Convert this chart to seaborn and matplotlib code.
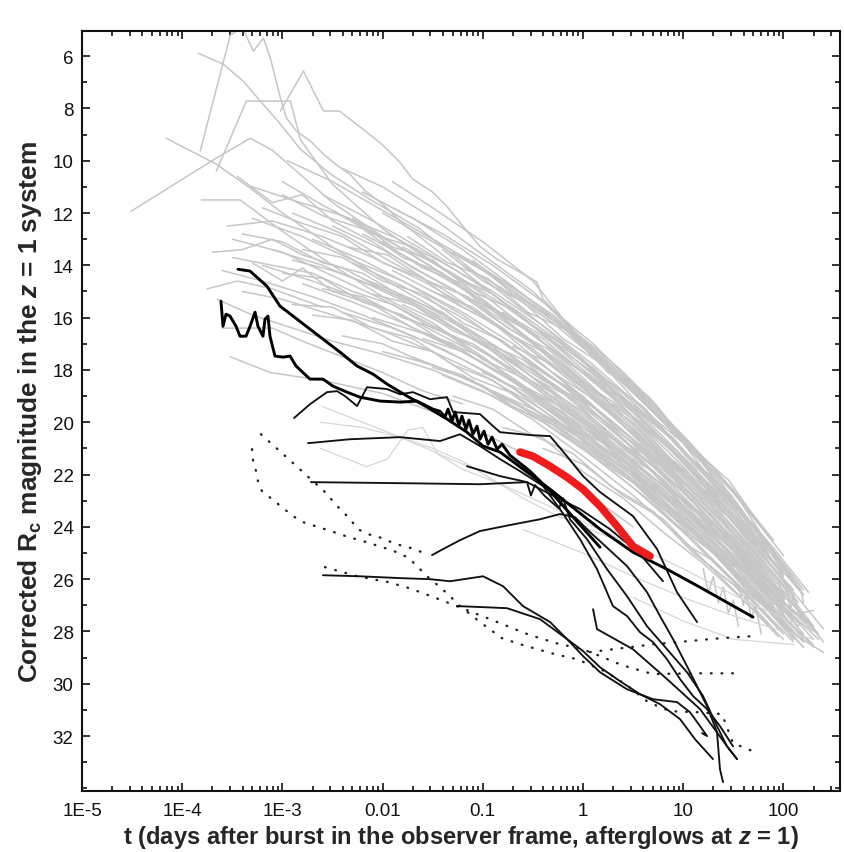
import numpy as np
import pandas as pd
import matplotlib
matplotlib.use("Agg")
import matplotlib.pyplot as plt
import seaborn as sns
from matplotlib import font_manager
from matplotlib.ticker import FixedLocator, LogLocator, MultipleLocator, NullFormatter

# ---------------- data (log10 t [days], corrected Rc magnitude) ----------------
x_tick_values = [1e-5, 1e-4, 1e-3, 1e-2, 1e-1, 1, 10, 100]
x_tick_labels = ["1E-5", "1E-4", "1E-3", "0.01", "0.1", "1", "10", "100"]
y_tick_values = list(range(6, 33, 2))

# grey: the comparison sample of afterglows
gray_curves = [
    [(-3.02, 8.1), (-2.79, 6.57), (-2.59, 8.1), (-2.43, 8.1), (-2.33, 8.4), (-2.17, 8.87), (-2.0, 9.4), (-1.83, 10.05), (-1.70, 10.7), (-1.50, 11.2), (-1.36, 11.74), (-1.20, 12.5), (-1.03, 13.27), (-0.86, 13.76), (-0.63, 14.26), (-0.46, 14.64), (-0.40, 15.29), (-0.23, 15.94), (-0.03, 16.71), (0.17, 17.32), (0.37, 17.97), (0.57, 18.73), (0.74, 19.38), (0.90, 20.15), (1.17, 21.41), (1.50, 23.21), (1.84, 24.59), (2.0, 25.5), (2.17, 26.38), (2.2, 26.9)],
    [(-3.82, 9.63), (-3.52, 5.2), (-3.40, 4.9), (-3.29, 5.81), (-3.19, 5.31), (-3.12, 6.08), (-3.02, 7.6), (-2.96, 8.37), (-2.86, 8.87), (-2.72, 9.25), (-2.59, 9.75), (-2.47, 10.13), (-2.33, 10.51), (-2.17, 11.16), (-2.0, 11.66), (-1.8, 12.4), (-1.5, 13.3), (-1.0, 14.8), (-0.5, 16.3), (0.0, 18.0), (0.5, 19.8), (1.0, 21.7), (1.4, 23.5)],
    [(-3.84, 5.89), (-3.59, 6.31), (-3.39, 6.96), (-3.22, 7.72), (-3.02, 8.6), (-2.82, 9.56), (-2.52, 10.51), (-2.13, 11.47), (-1.63, 12.6), (-1.0, 14.5), (-0.5, 16.0), (0.0, 17.6), (0.5, 19.5), (1.0, 21.5), (1.5, 23.8)],
    [(-4.16, 9.14), (-3.66, 10.13), (-3.32, 11.05), (-3.0, 12.0), (-2.5, 13.3), (-2.0, 14.5), (-1.5, 15.6), (-1.0, 17.0), (-0.5, 18.5), (0.0, 20.0), (0.5, 21.8), (1.0, 23.5), (1.5, 25.5)],
    [(-4.51, 11.93), (-3.66, 9.9), (-3.32, 9.14), (-3.1, 9.6), (-2.8, 10.6), (-2.5, 11.6), (-2.0, 12.9), (-1.5, 14.1), (-1.0, 15.4), (-0.5, 17.0), (0.0, 18.7), (0.5, 20.5), (1.0, 22.4)],
    [(-3.66, 10.4), (-3.36, 7.72), (-2.92, 7.72), (-2.82, 9.2), (-2.5, 10.9), (-2.0, 12.6), (-1.5, 13.9), (-1.0, 15.1), (-0.5, 16.6), (0.0, 18.3), (0.5, 20.1), (1.0, 22.0), (1.3, 23.2)],
    [(-3.81, 11.5), (-3.42, 11.5), (-3.0, 12.7), (-2.5, 14.0), (-2.0, 15.2), (-1.5, 16.2), (-1.0, 17.5), (-0.5, 19.0), (0.0, 20.6), (0.5, 22.3), (1.0, 24.0)],
    [(-3.3, 12.2), (-2.8, 12.9), (-2.3, 13.8), (-1.8, 14.6), (-1.2, 15.9), (-0.6, 17.5), (0.0, 19.1), (0.6, 21.0), (1.1, 22.8), (1.6, 25.0), (2.0, 26.8)],
    [(-3.5, 13.0), (-3.0, 13.5), (-2.5, 14.4), (-2.0, 15.3), (-1.5, 16.3), (-1.0, 17.3), (-0.5, 18.6), (0.0, 20.1), (0.5, 21.7), (1.0, 23.4), (1.5, 25.3), (1.9, 27.0)],
    [(-3.0, 10.8), (-2.6, 11.7), (-2.2, 12.5), (-1.7, 13.6), (-1.2, 14.8), (-0.7, 16.3), (-0.2, 17.9), (0.3, 19.5), (0.8, 21.3), (1.3, 23.3), (1.8, 25.6)],
    [(-2.9, 12.0), (-2.4, 12.8), (-1.9, 13.9), (-1.4, 14.9), (-0.9, 16.2), (-0.4, 17.8), (0.1, 19.4), (0.6, 21.2), (1.1, 23.0), (1.6, 25.1), (2.1, 27.5)],
    [(-3.6, 14.2), (-3.2, 14.6), (-2.7, 15.2), (-2.2, 15.9), (-1.7, 16.7), (-1.2, 17.6), (-0.7, 18.7), (-0.2, 20.1), (0.3, 21.6), (0.8, 23.2), (1.3, 25.0), (1.8, 27.0), (2.2, 28.6)],
    [(-2.6, 11.3), (-2.1, 12.3), (-1.6, 13.4), (-1.1, 14.6), (-0.6, 15.9), (-0.1, 17.3), (0.4, 18.9), (0.9, 20.7), (1.4, 22.7), (1.9, 24.9), (2.2, 26.4)],
    [(-2.5, 12.5), (-2.0, 13.4), (-1.5, 14.5), (-1.0, 15.6), (-0.5, 16.9), (0.0, 18.4), (0.5, 20.1), (1.0, 21.9), (1.5, 24.0), (2.0, 26.3), (2.3, 27.8)],
    [(-2.3, 13.9), (-1.8, 14.8), (-1.3, 15.8), (-0.8, 16.9), (-0.3, 18.3), (0.2, 19.9), (0.7, 21.7), (1.2, 23.6), (1.7, 25.7), (2.1, 27.6)],
    [(-2.0, 12.0), (-1.5, 13.1), (-1.0, 14.2), (-0.5, 15.5), (0.0, 17.0), (0.5, 18.7), (1.0, 20.6), (1.5, 22.7), (1.9, 24.6)],
    [(-1.8, 13.3), (-1.3, 14.3), (-0.8, 15.5), (-0.3, 16.9), (0.2, 18.5), (0.7, 20.3), (1.2, 22.3), (1.7, 24.6), (2.1, 26.6)],
    [(-3.1, 13.4), (-2.6, 14.0), (-2.1, 14.8), (-1.6, 15.7), (-1.1, 16.8), (-0.6, 18.0), (-0.1, 19.5), (0.4, 21.1), (0.9, 22.8), (1.4, 24.7), (1.9, 26.8)],
    [(-3.4, 15.0), (-3.0, 15.3), (-2.5, 15.9), (-2.0, 16.5), (-1.5, 17.3), (-1.0, 18.2), (-0.5, 19.3), (0.0, 20.6), (0.5, 22.1), (1.0, 23.8), (1.5, 25.7), (2.0, 27.8)],
    [(-2.8, 14.7), (-2.3, 15.4), (-1.8, 16.2), (-1.3, 17.1), (-0.8, 18.2), (-0.3, 19.5), (0.2, 21.0), (0.7, 22.6), (1.2, 24.4), (1.7, 26.4), (2.2, 28.4)],
    [(-1.5, 15.0), (-1.0, 16.0), (-0.5, 17.2), (0.0, 18.7), (0.5, 20.3), (1.0, 22.1), (1.5, 24.1), (2.0, 26.3)],
    [(-1.2, 14.0), (-0.8, 14.9), (-0.3, 16.2), (0.2, 17.8), (0.7, 19.6), (1.2, 21.6), (1.6, 23.5), (2.0, 25.7)],
    [(-2.2, 14.5), (-1.7, 15.3), (-1.2, 16.3), (-0.7, 17.5), (-0.2, 18.9), (0.3, 20.5), (0.8, 22.2), (1.3, 24.1), (1.8, 26.2), (2.3, 28.3)],
    [(-1.0, 17.0), (-0.5, 18.0), (0.0, 19.3), (0.5, 20.8), (1.0, 22.5), (1.5, 24.5), (2.0, 26.7)],
    [(-0.8, 15.8), (-0.4, 16.7), (0.1, 18.1), (0.6, 19.8), (1.1, 21.7), (1.6, 23.9), (2.0, 25.9)],
    [(-2.7, 13.0), (-2.2, 13.8), (-1.7, 14.8), (-1.2, 15.8), (-0.7, 17.0), (-0.2, 18.4), (0.3, 20.0), (0.8, 21.7), (1.3, 23.6), (1.8, 25.8)],
    [(-3.2, 14.0), (-2.7, 14.6), (-2.2, 15.3), (-1.7, 16.1), (-1.2, 17.1), (-0.7, 18.3), (-0.2, 19.7), (0.3, 21.3), (0.8, 23.0), (1.3, 24.9), (1.8, 27.0), (2.1, 28.3)],
    [(-2.4, 15.8), (-1.9, 16.4), (-1.4, 17.2), (-0.9, 18.2), (-0.4, 19.4), (0.1, 20.8), (0.6, 22.4), (1.1, 24.1), (1.6, 26.0), (2.1, 28.1), (2.4, 28.8)],
    [(-0.6, 17.6), (-0.2, 18.6), (0.3, 20.0), (0.8, 21.6), (1.3, 23.4), (1.8, 25.5), (2.2, 27.4)],
    [(-1.6, 16.2), (-1.1, 17.1), (-0.6, 18.2), (-0.1, 19.6), (0.4, 21.2), (0.9, 22.9), (1.4, 24.8), (1.9, 26.9)],
    [(-0.4, 19.4), (0.0, 20.2), (0.5, 21.5), (1.0, 23.0), (1.5, 24.8), (2.0, 26.9), (2.3, 28.0)],
    [(-1.4, 18.2), (-0.9, 19.0), (-0.4, 20.0), (0.1, 21.3), (0.6, 22.8), (1.1, 24.5), (1.6, 26.4), (2.1, 28.4)],
    [(-0.2, 20.5), (0.3, 21.7), (0.8, 23.2), (1.3, 24.9), (1.8, 26.9), (2.2, 28.6)],
    [(-2.0, 17.3), (-1.5, 17.8), (-1.0, 18.6), (-0.5, 19.7), (0.0, 21.0), (0.5, 22.5), (1.0, 24.2), (1.5, 26.1), (2.0, 28.1)],
    [(0.0, 18.0), (0.4, 19.1), (0.9, 20.7), (1.4, 22.6), (1.9, 24.8), (2.25, 26.5)],
    [(-1.9, 11.8), (-1.4, 12.8), (-0.9, 14.0), (-0.4, 15.4), (0.1, 17.0), (0.6, 18.9), (1.0, 20.6), (1.4, 22.4)],
    [(-1.3, 13.5), (-0.8, 14.6), (-0.3, 15.9), (0.2, 17.5), (0.7, 19.3), (1.1, 21.0), (1.5, 22.9), (1.8, 24.5)],
    [(-3.3, 11.0), (-2.9, 11.5), (-2.4, 12.1), (-1.9, 12.9), (-1.4, 13.9), (-0.9, 15.0), (-0.4, 16.3), (0.1, 17.8), (0.6, 19.5), (1.1, 21.5), (1.6, 23.8), (2.0, 25.9)],
    [(-3.55, 12.5), (-3.1, 12.3), (-2.6, 12.9), (-2.1, 13.7), (-1.6, 14.6), (-1.1, 15.7), (-0.6, 17.0), (-0.1, 18.5), (0.4, 20.1), (0.9, 21.9), (1.4, 23.9), (1.9, 26.1)],
    [(-2.95, 10.0), (-2.5, 10.8), (-2.0, 11.9), (-1.5, 13.0), (-1.0, 14.1), (-0.5, 15.4), (0.0, 16.9), (0.5, 18.6), (1.0, 20.5), (1.5, 22.6), (1.9, 24.5)],
    [(-0.9, 18.8), (-0.5, 19.5), (0.0, 20.5), (0.5, 21.9), (1.0, 23.5), (1.5, 25.4), (1.9, 27.1)],
    [(-1.7, 17.5), (-1.2, 18.3), (-0.7, 19.2), (-0.2, 20.3), (0.3, 21.6), (0.8, 23.1), (1.3, 24.8), (1.8, 26.8), (2.3, 28.5)],
    [(0.2, 21.2), (0.6, 22.2), (1.1, 23.7), (1.6, 25.5), (2.1, 27.4), (2.35, 28.3)],
    [(-2.1, 16.0), (-1.6, 16.6), (-1.1, 17.5), (-0.6, 18.6), (-0.1, 19.9), (0.4, 21.4), (0.9, 23.0), (1.4, 24.8), (1.9, 26.9)],
    [(-2.9, 13.8), (-2.5, 14.2), (-2.0, 14.9), (-1.5, 15.8), (-1.0, 16.8), (-0.5, 18.0), (0.0, 19.4), (0.5, 21.0), (1.0, 22.7), (1.5, 24.6), (2.0, 26.6)],
    [(-1.1, 15.3), (-0.6, 16.4), (-0.1, 17.8), (0.4, 19.3), (0.9, 21.0), (1.4, 22.9), (1.9, 25.1), (2.2, 26.6)],
    [(-2.2, 12.8), (-1.7, 13.8), (-1.2, 14.9), (-0.7, 16.1), (-0.2, 17.5), (0.3, 19.1), (0.8, 20.8), (1.3, 22.7), (1.7, 24.4)],
    [(0.5, 20.4), (0.9, 21.6), (1.3, 23.0), (1.7, 24.6), (2.1, 26.5), (2.4, 27.9)],
    [(-0.3, 18.1), (0.1, 19.1), (0.6, 20.6), (1.1, 22.3), (1.6, 24.2), (2.05, 26.3)],
    [(-1.8, 15.5), (-1.3, 16.4), (-0.8, 17.5), (-0.3, 18.8), (0.2, 20.3), (0.7, 21.9), (1.2, 23.7), (1.7, 25.7), (2.15, 27.8)],
    [(-3.65, 15.3), (-3.3, 15.9), (-2.9, 16.4), (-2.5, 16.9), (-2.0, 17.4), (-1.5, 18.0), (-1.0, 18.8), (-0.5, 19.9), (0.0, 21.3), (0.5, 22.8), (1.0, 24.5), (1.5, 26.4), (2.0, 28.3)],
    [(-3.52, 17.5), (-3.12, 18.1), (-2.6, 18.4), (-2.0, 18.9), (-1.5, 19.6), (-1.0, 20.4), (-0.5, 21.4), (0.0, 22.6), (0.5, 24.0)],
    [(-2.4, 10.3), (-2.0, 11.0), (-1.5, 12.2), (-1.0, 13.6), (-0.5, 15.0), (0.0, 16.9), (0.5, 18.8), (0.9, 20.4)],
    [(-2.2, 11.2), (-1.7, 12.2), (-1.2, 13.4), (-0.7, 14.8), (-0.2, 16.3), (0.3, 18.0), (0.8, 19.9), (1.2, 21.6), (1.6, 23.6)],
    [(-1.9, 10.8), (-1.5, 11.8), (-1.0, 13.1), (-0.5, 14.6), (0.0, 17.0), (0.4, 18.5), (0.8, 20.0)],
    [(-3.6, 16.4), (-3.1, 16.4), (-2.8, 16.9), (-2.4, 17.5), (-2.0, 18.1), (-1.6, 18.8), (-1.2, 19.3)],
    [(-3.75, 14.9), (-3.45, 14.6), (-3.1, 14.9), (-2.6, 15.6)],
    [(1.2, 25.6), (1.25, 26.5), (1.3, 25.9), (1.35, 26.9), (1.4, 26.3), (1.45, 27.3), (1.5, 26.8), (1.55, 27.8)],
    [(1.95, 26.0), (2.0, 26.9), (2.03, 26.3), (2.07, 27.2), (2.1, 26.6), (2.15, 27.3), (2.3, 27.2)],
    [(1.55, 26.2), (1.6, 27.0), (1.63, 26.5), (1.68, 27.5), (1.72, 27.0), (1.78, 28.1)],
    [(-3.4, 12.8), (-3.0, 13.1), (-2.6, 13.9), (-2.2, 14.3), (-1.8, 15.2), (-1.4, 15.8), (-1.0, 16.9), (-0.6, 17.6), (-0.2, 18.9), (0.2, 19.9), (0.6, 21.4), (1.0, 22.6), (1.4, 24.3), (1.8, 25.9)],
    [(-3.2, 11.8), (-2.8, 12.4), (-2.4, 12.9), (-2.0, 13.9), (-1.6, 14.5), (-1.2, 15.6), (-0.8, 16.4), (-0.4, 17.6), (0.0, 18.6), (0.4, 20.1), (0.8, 21.4), (1.2, 23.1), (1.6, 24.6), (2.0, 26.6)],
    [(-2.6, 14.9), (-2.2, 15.2), (-1.8, 16.0), (-1.4, 16.5), (-1.0, 17.6), (-0.6, 18.3), (-0.2, 19.5), (0.2, 20.5), (0.6, 22.0), (1.0, 23.2), (1.4, 24.8), (1.8, 26.3), (2.2, 28.1)],
    [(-2.0, 13.1), (-1.6, 14.1), (-1.2, 14.7), (-0.8, 15.9), (-0.4, 16.8), (0.0, 18.1), (0.4, 19.2), (0.8, 20.8), (1.2, 22.2), (1.6, 24.1), (2.0, 25.8)],
    [(-1.6, 16.8), (-1.2, 17.3), (-0.8, 18.2), (-0.4, 19.0), (0.0, 20.0), (0.4, 21.3), (0.8, 22.4), (1.2, 24.0), (1.6, 25.4), (2.0, 27.3)],
    [(-1.2, 16.6), (-0.8, 17.4), (-0.4, 18.4), (0.0, 19.2), (0.4, 20.7), (0.8, 21.7), (1.2, 23.5), (1.6, 24.9), (2.0, 26.9), (2.3, 27.8)],
    [(-0.9, 14.4), (-0.5, 15.6), (-0.1, 16.6), (0.3, 18.2), (0.7, 19.3), (1.1, 21.1), (1.5, 22.6), (1.8, 24.4)],
    [(-2.8, 13.4), (-2.4, 13.7), (-2.0, 14.6), (-1.6, 15.1), (-1.2, 16.2), (-0.8, 16.9), (-0.4, 18.1), (0.0, 19.0), (0.4, 20.5), (0.8, 21.6), (1.2, 23.3), (1.6, 24.8), (2.0, 26.7)],
    [(-3.0, 14.3), (-2.6, 14.5), (-2.2, 15.4), (-1.8, 15.9), (-1.4, 16.9), (-1.0, 17.5), (-0.6, 18.7), (-0.2, 19.6), (0.2, 21.0), (0.6, 22.0), (1.0, 23.6), (1.4, 25.0), (1.8, 26.8), (2.2, 28.2)],
    [(-1.4, 13.4), (-1.0, 14.6), (-0.6, 15.4), (-0.2, 16.8), (0.2, 17.8), (0.6, 19.5), (1.0, 20.8), (1.4, 22.8), (1.8, 24.5), (2.1, 26.1)],
    [(-0.7, 17.1), (-0.3, 17.8), (0.1, 19.0), (0.5, 20.0), (0.9, 21.6), (1.3, 22.9), (1.7, 24.8), (2.1, 26.4)],
    [(-0.5, 18.9), (-0.1, 19.6), (0.3, 20.9), (0.7, 21.9), (1.1, 23.6), (1.5, 24.9), (1.9, 26.9), (2.25, 27.9)],
    [(-2.4, 16.7), (-2.0, 17.0), (-1.6, 17.7), (-1.2, 18.2), (-0.8, 19.1), (-0.4, 19.8), (0.0, 20.9), (0.4, 21.9), (0.8, 23.3), (1.2, 24.4), (1.6, 26.0), (2.0, 27.4), (2.3, 28.6)],
    [(-1.9, 14.2), (-1.5, 15.0), (-1.1, 15.6), (-0.7, 16.7), (-0.3, 17.5), (0.1, 18.8), (0.5, 19.9), (0.9, 21.5), (1.3, 22.9), (1.7, 24.7), (2.05, 26.2)],
    [(-2.5, 11.9), (-2.1, 12.8), (-1.7, 13.3), (-1.3, 14.4), (-0.9, 15.1), (-0.5, 16.3), (-0.1, 17.3), (0.3, 18.8), (0.7, 19.9), (1.1, 21.6), (1.5, 23.1), (1.85, 25.0)],
    [(-0.2, 17.1), (0.2, 18.3), (0.6, 19.4), (1.0, 21.1), (1.4, 22.5), (1.8, 24.5), (2.1, 25.9)],
    [(-3.5, 13.7), (-3.1, 14.0), (-2.7, 14.3), (-2.3, 15.0), (-1.9, 15.5), (-1.5, 16.4), (-1.1, 17.0), (-0.7, 18.0), (-0.3, 18.9), (0.1, 20.1), (0.5, 21.2), (0.9, 22.7), (1.3, 23.9), (1.7, 25.7), (2.1, 27.3)],
    [(-1.0, 18.1), (-0.6, 18.8), (-0.2, 19.9), (0.2, 20.8), (0.6, 22.2), (1.0, 23.3), (1.4, 25.0), (1.8, 26.4), (2.2, 28.3)],
    [(-2.3, 12.2), (-1.9, 13.3), (-1.5, 13.8), (-1.1, 15.0), (-0.7, 15.7), (-0.3, 16.9), (0.1, 17.9), (0.5, 19.4), (0.9, 20.6), (1.3, 22.4), (1.7, 23.9), (2.0, 25.5)],
    [(-1.5, 17.9), (-1.1, 18.4), (-0.7, 19.4), (-0.3, 20.1), (0.1, 21.3), (0.5, 22.3), (0.9, 23.8), (1.3, 25.0), (1.7, 26.7), (2.1, 28.0)],
    [(0.3, 19.3), (0.7, 20.3), (1.1, 22.0), (1.5, 23.3), (1.9, 25.3), (2.2, 26.6)],
    [(0.8, 22.7), (1.2, 23.8), (1.6, 25.3), (2.0, 26.5), (2.35, 28.1)],
    [(-2.7, 15.9), (-2.3, 16.1), (-1.9, 16.9), (-1.5, 17.3), (-1.1, 18.3), (-0.7, 18.9), (-0.3, 20.0), (0.1, 20.9), (0.5, 22.3), (0.9, 23.4), (1.3, 25.0), (1.7, 26.4), (2.1, 28.2)],
    [(-3.3, 13.9), (-3.0, 14.6), (-2.8, 14.1), (-2.5, 15.0), (-2.1, 15.5), (-1.7, 16.4), (-1.3, 17.0), (-0.9, 18.0), (-0.5, 18.9), (-0.1, 20.2), (0.3, 21.2), (0.7, 22.8), (1.1, 23.9)],
    [(-1.1, 13.8), (-0.7, 15.1), (-0.3, 16.0), (0.1, 17.5), (0.5, 18.6), (0.9, 20.3), (1.3, 21.7), (1.7, 23.6), (2.0, 25.1)],
    [(-2.1, 15.1), (-1.7, 15.5), (-1.3, 16.5), (-0.9, 17.1), (-0.5, 18.3), (-0.1, 19.1), (0.3, 20.6), (0.7, 21.6), (1.1, 23.3), (1.5, 24.6), (1.9, 26.5), (2.3, 27.9)],
    [(-0.4, 21.0), (0.0, 21.6), (0.4, 22.8), (0.8, 23.7), (1.2, 25.3), (1.6, 26.5), (2.0, 28.0)],
    [(-1.3, 19.0), (-0.9, 19.5), (-0.5, 20.5), (-0.1, 21.2), (0.3, 22.5), (0.7, 23.4), (1.1, 25.0), (1.5, 26.2), (1.9, 27.9)],
    [(-3.0, 11.3), (-2.6, 12.1), (-2.2, 12.6), (-1.8, 13.7), (-1.4, 14.3), (-1.0, 15.5), (-0.6, 16.3), (-0.2, 17.6), (0.2, 18.6), (0.6, 20.2), (1.0, 21.4), (1.4, 23.2), (1.8, 24.9)],
    [(-3.45, 10.6), (-3.1, 11.6), (-2.8, 11.3), (-2.5, 12.3), (-2.1, 13.1), (-1.7, 14.1), (-1.3, 14.9), (-0.9, 16.0), (-0.5, 17.0), (-0.1, 18.3), (0.3, 19.6), (0.7, 21.1), (1.1, 22.6)],
    [(-2.35, 13.3), (-1.95, 13.6), (-1.55, 14.6), (-1.15, 15.2), (-0.75, 16.4), (-0.35, 17.2), (0.05, 18.6), (0.45, 19.6), (0.85, 21.3), (1.25, 22.6), (1.65, 24.5), (2.05, 25.9)],
    [(-0.8, 20.2), (-0.4, 20.6), (0.0, 21.9), (0.4, 22.9), (0.8, 24.2), (1.2, 25.4), (1.6, 26.8), (1.95, 28.2)],
    [(1.0, 24.6), (1.3, 25.3), (1.6, 26.4), (1.9, 27.2), (2.2, 28.4)],
    [(-1.75, 12.9), (-1.35, 13.9), (-0.95, 14.5), (-0.55, 15.8), (-0.15, 16.5), (0.25, 18.1), (0.65, 19.0), (1.05, 20.9), (1.45, 22.2), (1.8, 24.1)],
    [(-0.3, 19.0), (0.1, 20.2), (0.5, 21.1), (0.9, 22.7), (1.3, 23.8), (1.7, 25.6), (2.1, 27.0), (2.4, 28.4)],
    [(0.6, 21.1), (1.0, 22.3), (1.4, 23.6), (1.8, 25.3), (2.15, 26.9)],
    [(-2.9, 15.5), (-2.5, 15.6), (-2.1, 16.4), (-1.7, 16.8), (-1.3, 17.8), (-0.9, 18.4), (-0.5, 19.5), (-0.1, 20.4), (0.3, 21.8), (0.7, 22.8), (1.1, 24.4), (1.5, 25.6)],
    [(-3.7, 13.5), (-3.4, 13.4), (-3.1, 13.0), (-2.8, 13.6), (-2.4, 14.1), (-2.0, 14.9), (-1.6, 15.6), (-1.2, 16.6), (-0.8, 17.4), (-0.4, 18.6), (0.0, 19.6), (0.4, 21.0), (0.8, 22.2), (1.2, 23.9), (1.6, 25.2), (2.0, 27.0)],
]

# faint grey (lower part of the sample)
faint_curves = [
    [(-2.62, 21.0), (-2.16, 21.7), (-1.95, 21.4), (-1.75, 20.3), (-1.6, 20.2), (-1.45, 21.2), (-1.2, 21.6), (-0.9, 22.0)],
    [(-2.6, 19.4), (-2.0, 20.3), (-1.5, 21.1), (-1.2, 21.8), (-0.8, 22.4), (-0.4, 23.1), (0.0, 23.8), (0.5, 24.7), (1.0, 25.6), (1.5, 26.6), (2.0, 27.5), (2.3, 28.0)],
    [(-0.6, 24.1), (0.0, 25.0), (0.5, 25.9), (1.0, 26.7), (1.5, 27.4), (2.0, 28.0), (2.3, 28.3)],
    [(0.5, 26.7), (1.0, 27.6), (1.5, 28.3), (2.1, 28.5)],
    [(-2.62, 20.0), (-2.2, 20.2), (-1.8, 20.6), (-1.5, 21.0), (-1.2, 21.5), (-0.9, 22.2), (-0.6, 22.9), (-0.3, 23.5), (0.0, 24.0), (0.4, 24.6)],
]

# black: the dark bursts
black_A = [(-3.443, 14.15), (-3.323, 14.22), (-3.154, 14.80), (-3.024, 15.56), (-2.894, 15.94), (-2.725, 16.44), (-2.595, 16.82), (-2.425, 17.32), (-2.255, 17.85), (-2.096, 18.16), (-1.956, 18.54), (-1.756, 19.00), (-1.557, 19.42), (-1.357, 19.88), (-1.158, 20.38), (-0.998, 20.91), (-0.828, 21.14), (-0.329, 22.56), (0.170, 24.09), (0.499, 24.97), (0.838, 25.62), (1.168, 26.31), (1.697, 27.45)]
black_B = [(-3.613, 15.37), (-3.593, 16.33), (-3.563, 15.87), (-3.523, 15.94), (-3.463, 16.33), (-3.423, 16.71), (-3.363, 16.71), (-3.323, 16.33), (-3.273, 15.79), (-3.244, 16.33), (-3.194, 16.71), (-3.174, 16.06), (-3.144, 15.94), (-3.124, 16.71), (-3.074, 17.47), (-2.994, 17.51), (-2.924, 17.47), (-2.864, 17.85), (-2.725, 18.35), (-2.595, 18.35), (-2.495, 18.62), (-2.355, 18.85), (-2.226, 19.04), (-2.026, 19.19), (-1.826, 19.23), (-1.657, 19.19), (-1.497, 19.50), (-1.427, 19.58), (-1.377, 19.80), (-1.347, 19.50), (-1.307, 19.96), (-1.277, 19.61), (-1.238, 20.11), (-1.208, 19.77), (-1.168, 20.26), (-1.138, 19.92), (-1.098, 20.46), (-1.058, 20.15), (-1.028, 20.65), (-0.988, 20.34), (-0.948, 20.84), (-0.908, 20.57), (-0.858, 21.03), (-0.808, 20.84), (-0.729, 21.26), (-0.529, 21.87), (-0.329, 22.63), (-0.080, 23.71), (0.170, 24.78)]
black_C = [(-2.884, 19.84), (-2.725, 19.31), (-2.555, 18.85), (-2.455, 18.81), (-2.375, 19.00), (-2.255, 19.38), (-2.156, 18.66), (-1.956, 18.73), (-1.826, 18.93), (-1.697, 18.85), (-1.527, 19.12), (-1.357, 19.04), (-1.297, 19.61), (-1.028, 19.69), (-0.898, 20.15), (-0.828, 20.38), (-0.529, 20.49), (-0.329, 20.53), (-0.160, 21.30), (0.0, 22.06), (0.170, 22.67), (0.499, 23.59), (0.739, 24.85), (0.938, 26.50), (1.138, 27.64)]
black_D = [(-2.744, 20.80), (-2.325, 20.65), (-1.826, 20.57), (-1.427, 20.72), (-1.228, 20.46), (-1.028, 20.91), (-0.828, 21.41), (-0.629, 21.87), (-0.399, 22.44), (-0.230, 23.32), (-0.030, 24.47), (0.140, 25.62), (0.299, 27.03), (0.439, 27.41), (0.569, 28.03), (0.699, 28.41), (0.838, 29.06), (0.968, 29.82), (1.098, 30.47), (1.238, 30.97), (1.367, 31.62), (1.497, 32.39)]
black_E = [(-2.715, 22.29), (-1.826, 22.33), (-1.028, 22.37), (-0.559, 22.29), (-0.52, 22.80), (-0.48, 22.40), (-0.379, 22.83), (-0.24, 23.30), (-0.20, 22.90), (-0.130, 23.71), (0.040, 24.47), (0.240, 25.62), (0.439, 26.65), (0.639, 27.80), (0.838, 28.68), (1.038, 29.56), (1.198, 30.47), (1.337, 31.62), (1.437, 32.39), (1.537, 32.88)]
black_F = [(-1.507, 25.08), (-1.377, 24.81), (-1.228, 24.51), (-1.028, 24.16), (-0.729, 23.93), (-0.429, 23.71), (-0.230, 23.51), (-0.080, 23.63), (0.070, 24.20), (0.170, 24.55), (0.439, 25.50), (0.639, 26.50), (0.768, 27.41), (0.898, 28.29), (1.038, 29.33), (1.138, 30.09), (1.238, 30.86), (1.337, 31.85), (1.367, 33.27), (1.397, 33.76)]
black_G = [(-2.595, 25.85), (-2.226, 25.89), (-1.826, 25.96), (-1.527, 26.00), (-1.327, 26.08), (-0.998, 25.89), (-0.798, 26.27), (-0.599, 27.03), (-0.329, 27.64), (-0.160, 28.29), (0.0, 28.94), (0.170, 29.56), (0.439, 30.21), (0.699, 30.59), (0.938, 30.70), (1.068, 31.09), (1.168, 31.62), (1.238, 32.00), (1.188, 31.89)]
black_H = [(-1.257, 27.03), (-0.998, 27.07), (-0.758, 27.11), (-0.429, 27.53), (-0.160, 28.29), (0.0, 28.75), (0.170, 29.37), (0.369, 29.90), (0.569, 30.40), (0.768, 30.78), (0.968, 31.35), (1.118, 32.12), (1.297, 32.88)]
black_I = [(0.100, 27.15), (0.140, 27.91), (0.499, 28.68), (0.838, 29.82), (1.168, 30.97), (1.437, 32.39), (1.537, 32.88)]
black_L = [(-1.158, 21.68), (-0.828, 22.06), (-0.559, 22.29), (-0.329, 22.75), (-0.030, 23.32), (0.269, 24.09), (0.569, 25.04), (0.798, 26.08)]

# dotted: model curves
dotted_P = [(-3.303, 21.03), (-3.293, 21.45), (-3.263, 21.87), (-3.244, 22.25), (-3.204, 22.63), (-3.104, 22.94), (-2.994, 23.28), (-2.894, 23.59), (-2.794, 23.82), (-2.575, 24.09), (-2.365, 24.36), (-2.156, 24.59), (-1.946, 24.85), (-1.836, 25.00), (-1.737, 25.20), (-1.647, 25.54), (-1.547, 25.92), (-1.437, 26.27), (-1.327, 26.65), (-1.228, 27.03), (-1.028, 27.64), (-0.808, 28.26), (-0.599, 28.52), (-0.279, 28.87), (-0.060, 29.06), (0.240, 29.56), (0.449, 30.09), (0.649, 30.70), (0.868, 31.05), (1.168, 31.09), (1.387, 31.16), (1.497, 32.27), (1.697, 32.58)]
dotted_Q = [(-3.214, 20.46), (-3.104, 20.84), (-3.004, 21.18), (-2.894, 21.56), (-2.794, 21.91), (-2.585, 22.63), (-2.435, 23.28), (-2.335, 23.66), (-2.245, 24.09), (-2.146, 24.28), (-2.036, 24.39), (-1.936, 24.55), (-1.826, 24.70), (-1.717, 24.81), (-1.607, 24.97)]
dotted_R = [(-2.575, 25.54), (-2.255, 25.89), (-1.946, 26.11), (-1.737, 26.34), (-1.517, 26.65), (-1.307, 26.96), (-0.928, 27.53), (-0.529, 28.14), (-0.230, 28.49), (-0.030, 28.64), (0.170, 28.94), (0.389, 29.29), (0.599, 29.52), (0.699, 29.63), (1.098, 29.60), (1.537, 29.60)]
dotted_S = [(0.070, 28.79), (0.469, 28.60), (0.699, 28.49), (1.048, 28.37), (1.367, 28.26), (1.687, 28.18)]

# red: the highlighted afterglow
red_curve = [(-0.629, 21.14), (-0.499, 21.30), (-0.329, 21.68), (-0.160, 22.10), (0.0, 22.56), (0.170, 23.21), (0.339, 23.97), (0.499, 24.74), (0.669, 25.12)]


def to_frame(curves):
    rows = []
    for cid, pts in enumerate(curves):
        for k, (lt, m) in enumerate(pts):
            rows.append((cid, k, 10.0 ** lt, m))
    return pd.DataFrame(rows, columns=["curve", "order", "t", "mag"])


# ---------------- style ----------------
sns.set_style("ticks")
try:
    font_manager.findfont("Liberation Sans Narrow", fallback_to_default=False)
    has_narrow = True
except Exception:
    has_narrow = False

if has_narrow:
    plt.rcParams["font.family"] = ["Liberation Sans Narrow", "Liberation Sans", "DejaVu Sans"]
    base_font = "Liberation Sans Narrow"
    tick_size, xlab_size, ylab_size = 16.0, 18.5, 18.5
else:
    plt.rcParams["font.family"] = ["Liberation Sans", "DejaVu Sans"]
    base_font = "Liberation Sans"
    tick_size, xlab_size, ylab_size = 13.5, 17.1, 18.9
plt.rcParams["mathtext.fontset"] = "custom"
plt.rcParams["mathtext.rm"] = base_font
plt.rcParams["mathtext.bf"] = base_font + ":bold"
plt.rcParams["mathtext.it"] = base_font + ":italic"
plt.rcParams["mathtext.bfit"] = base_font + ":bold:italic"

fig = plt.figure(figsize=(8.44, 8.53), dpi=100)
ax = fig.add_axes([82 / 844, 1 - 792 / 853, 758 / 844, 760 / 853])

gray_df = to_frame(gray_curves)
sns.lineplot(data=gray_df, x="t", y="mag", units="curve", estimator=None, sort=False,
             color="#c6c6c6", lw=1.1, ax=ax, legend=False)
faint_df = to_frame(faint_curves)
sns.lineplot(data=faint_df, x="t", y="mag", units="curve", estimator=None, sort=False,
             color="#d6d6d6", lw=0.9, ax=ax, legend=False)

dotted = [dotted_P, dotted_Q, dotted_R, dotted_S]
dot_df = to_frame(dotted)
sns.lineplot(data=dot_df, x="t", y="mag", units="curve", estimator=None, sort=False,
             color="#222222", lw=1.7, linestyle=(0, (0.3, 4.2)), dash_capstyle="round",
             ax=ax, legend=False)

thin_black = [black_C, black_D, black_E, black_F, black_G, black_H, black_I, black_L]
thin_df = to_frame(thin_black)
sns.lineplot(data=thin_df, x="t", y="mag", units="curve", estimator=None, sort=False,
             color="#111111", lw=1.35, ax=ax, legend=False)

thick_df = to_frame([black_A, black_B])
sns.lineplot(data=thick_df, x="t", y="mag", units="curve", estimator=None, sort=False,
             color="#000000", lw=2.1, ax=ax, legend=False)

red_df = to_frame([red_curve])
sns.lineplot(data=red_df, x="t", y="mag", units="curve", estimator=None, sort=False,
             color="#ee1c1c", lw=5.5, solid_capstyle="round", ax=ax, legend=False)

# ---------------- axes ----------------
ax.set_xscale("log")
ax.set_xlim(1e-5, 367)
ax.set_ylim(34.1, 5.04)

ax.xaxis.set_major_locator(FixedLocator(x_tick_values))
ax.set_xticklabels(x_tick_labels)
ax.xaxis.set_minor_locator(LogLocator(base=10, subs=np.arange(2, 10), numticks=30))
ax.xaxis.set_minor_formatter(NullFormatter())
ax.yaxis.set_major_locator(FixedLocator(y_tick_values))
ax.set_yticklabels([str(v) for v in y_tick_values])
ax.yaxis.set_minor_locator(MultipleLocator(1))

ax.tick_params(which="both", direction="in", top=True, right=True, width=1.2,
               colors="#111111", labelsize=tick_size)
ax.tick_params(which="major", length=6)
ax.tick_params(which="minor", length=3.5)
ax.tick_params(axis="x", which="major", pad=8)
ax.tick_params(axis="y", which="major", pad=6)
for s in ax.spines.values():
    s.set_linewidth(1.5)
    s.set_color("#111111")

ax.set_xlabel(r"t (days after burst in the observer frame, afterglows at $\mathbfit{z}$ = 1)",
              fontsize=xlab_size, fontweight="bold", labelpad=3)
ax.set_ylabel(r"Corrected R$_{\mathbf{c}}$ magnitude in the $\mathbfit{z}$ = 1 system",
              fontsize=ylab_size, fontweight="bold", labelpad=6)

fig.savefig("out.png", dpi=100, facecolor="white")
